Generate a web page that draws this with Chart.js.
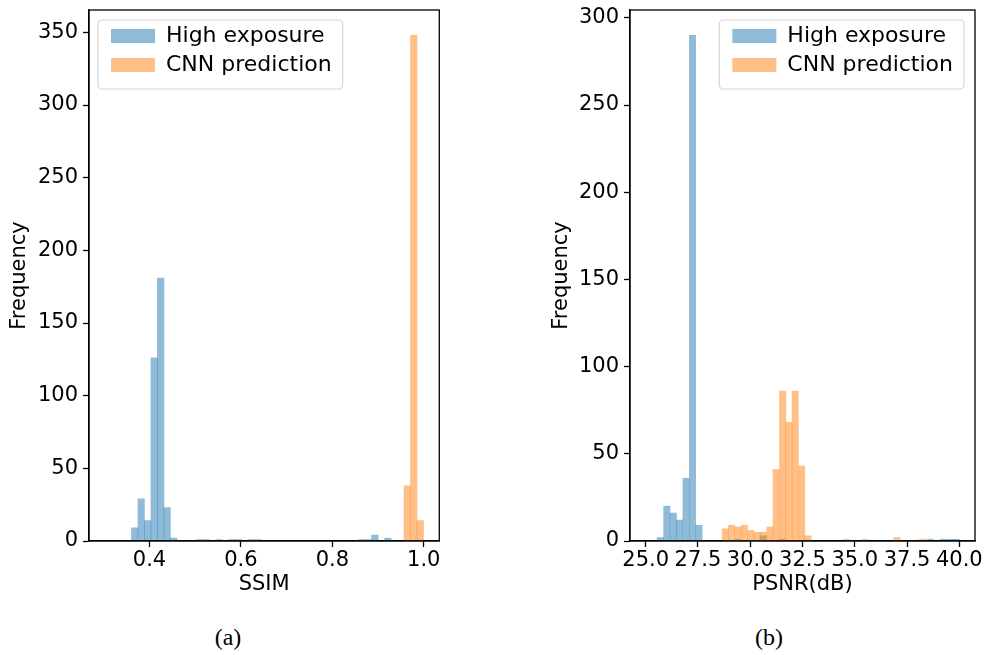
<!DOCTYPE html>
<html><head><meta charset="utf-8">
<script src="https://cdn.jsdelivr.net/npm/chart.js@4.4.0/dist/chart.umd.min.js"></script>
<style>
html,body{margin:0;padding:0;background:#fff;}
#wrap{position:relative;width:987px;height:655px;overflow:hidden;background:#fff;}
canvas{position:absolute;top:0;}
#cA{left:0;} #cB{left:542px;}
.cap{position:absolute;top:637px;transform:translate(-50%,-50%);font-family:'Liberation Serif','Times New Roman',serif;font-size:24px;color:#000;line-height:1;}
</style></head><body>
<div id="wrap">
<canvas id="cA" width="460" height="600"></canvas>
<canvas id="cB" width="445" height="600"></canvas>
<div class="cap" style="left:228px">(a)</div>
<div class="cap" style="left:769px">(b)</div>
</div>
<script>
// ---- data (bin centres and counts) ----
const seriesNames = ['High exposure', 'CNN prediction'];

// (a) SSIM
const ssimHighBins   = [0.3676, 0.3818, 0.3960, 0.4102, 0.4244, 0.4386, 0.4528, 0.5096, 0.5238, 0.5522, 0.5806, 0.5948, 0.6232, 0.6374, 0.8646, 0.8788, 0.8930, 0.9214];
const ssimHighCounts = [9, 29, 14, 126, 181, 23, 2, 1, 1, 1, 1, 1, 1, 1, 1, 1, 4, 2];
const ssimCnnBins    = [0.9640, 0.9782, 0.9924];
const ssimCnnCounts  = [38, 348, 14];
const ssimTicks      = [0.4, 0.6, 0.8, 1.0];
const ssimFreqTicks  = [0, 50, 100, 150, 200, 250, 300, 350];

// (b) PSNR
const psnrHighBins   = [25.70, 26.01, 26.32, 26.62, 26.93, 27.24, 27.55, 29.39, 30.62, 31.54, 38.62, 39.23, 39.54, 39.85];
const psnrHighCounts = [2, 20, 16, 12, 36, 290, 9, 1, 3, 1, 1, 1, 1, 1];
const psnrCnnBins    = [28.81, 29.11, 29.42, 29.72, 30.03, 30.33, 30.63, 30.94, 31.24, 31.55, 31.85, 32.15, 32.46, 32.76, 34.59, 35.50, 37.02, 38.23];
const psnrCnnCounts  = [7, 9, 8, 9, 6, 5, 5, 8, 41, 86, 68, 86, 43, 3, 1, 1, 2, 1];
const psnrTicks      = [25.0, 27.5, 30.0, 32.5, 35.0, 37.5, 40.0];
const psnrFreqTicks  = [0, 50, 100, 150, 200, 250, 300];

// ---- styling ----
const BLUE = 'rgba(31,119,180,0.5)';
const ORANGE = 'rgba(255,127,14,0.5)';
Chart.defaults.font.family = "'DejaVu Sans', sans-serif";
Chart.defaults.font.size = 21;
Chart.defaults.color = '#000';

const toXY = (bins, counts) => bins.map((b, i) => ({ x: b, y: counts[i] }));

const framePlugin = {
  id: 'axesFrame',
  afterDatasetsDraw(chart) {
    const { ctx, chartArea: a } = chart;
    ctx.save();
    ctx.strokeStyle = '#000';
    ctx.lineWidth = 1.3;
    ctx.strokeRect(a.left, a.top, a.right - a.left, a.bottom - a.top);
    ctx.restore();
  }
};

const legendPlugin = {
  id: 'mplLegend',
  afterUpdate(chart, args, o) {
    const lg = chart.legend;
    if (!lg || !lg.legendHitBoxes || !lg.legendHitBoxes.length) return;
    const a = chart.chartArea, hb = lg.legendHitBoxes;
    const left = Math.min(...hb.map(h => h.left));
    const right = Math.max(...hb.map(h => h.left + h.width));
    const target = o.anchor === 'left' ? a.left + o.dx : a.right - o.dx - (right - left);
    const dx = target - left;
    const dy = (a.top + o.dy) - (hb[0].top + hb[0].height / 2);
    lg.left += dx; lg.right += dx; lg.top += dy; lg.bottom += dy;
    hb.forEach(h => { h.left += dx; h.top += dy; });
  },
  beforeDraw(chart) {
    const lg = chart.legend;
    if (!lg || !lg.legendHitBoxes || !lg.legendHitBoxes.length) return;
    const hb = lg.legendHitBoxes;
    const l = Math.min(...hb.map(h => h.left)) - 13;
    const r = Math.max(...hb.map(h => h.left + h.width)) + 11;
    const t = hb[0].top + hb[0].height / 2 - 16;
    const b = hb[hb.length - 1].top + hb[hb.length - 1].height / 2 + 24;
    const ctx = chart.ctx, rad = 4;
    ctx.save();
    ctx.beginPath();
    ctx.moveTo(l + rad, t);
    ctx.arcTo(r, t, r, b, rad);
    ctx.arcTo(r, b, l, b, rad);
    ctx.arcTo(l, b, l, t, rad);
    ctx.arcTo(l, t, r, t, rad);
    ctx.closePath();
    ctx.fillStyle = 'rgba(255,255,255,0.8)';
    ctx.fill();
    ctx.strokeStyle = '#d6d6d6';
    ctx.lineWidth = 1.2;
    ctx.stroke();
    ctx.restore();
  }
};

function histChart(id, o) {
  return new Chart(document.getElementById(id), {
    type: 'bar',
    data: {
      datasets: [
        { label: seriesNames[0], data: toXY(o.highBins, o.highCounts), backgroundColor: BLUE, borderWidth: 0, xAxisID: 'x', order: 1 },
        { label: seriesNames[1], data: toXY(o.cnnBins, o.cnnCounts), backgroundColor: ORANGE, borderWidth: 0, xAxisID: 'x2', order: 0 }
      ]
    },
    options: {
      responsive: false,
      animation: false,
      devicePixelRatio: 1,
      layout: { autoPadding: false, padding: { left: 0, top: 10, right: o.padRight, bottom: 0 } },
      datasets: { bar: { barPercentage: 1, categoryPercentage: 1, grouped: false } },
      scales: {
        x: {
          type: 'linear', position: 'bottom', min: o.xMin, max: o.xMax, offset: false,
          grid: { display: true, drawOnChartArea: false, drawTicks: true, tickLength: 6, tickWidth: 1.3, tickColor: '#000', offset: false },
          border: { display: true, color: '#000', width: 1.3 },
          ticks: { autoSkip: false, maxRotation: 0, minRotation: 0, padding: 1, color: '#000', callback: v => Number(v).toFixed(1) },
          title: { display: true, text: o.xTitle, color: '#000', padding: { top: 0, bottom: 3 } },
          afterBuildTicks: s => { s.ticks = o.xTicks.map(v => ({ value: v })); },
          afterFit: s => { s.height = 59; }
        },
        x2: { type: 'linear', display: false, min: o.xMin, max: o.xMax, offset: false },
        y: {
          type: 'linear', position: 'left', min: 0, max: o.yMax,
          grid: { display: true, drawOnChartArea: false, drawTicks: true, tickLength: 6, tickWidth: 1.3, tickColor: '#000' },
          border: { display: true, color: '#000', width: 1.3 },
          ticks: { autoSkip: false, padding: 5, color: '#000', font: { size: 21, lineHeight: 0.4 }, callback: v => String(v) },
          title: { display: true, text: 'Frequency', color: '#000', padding: { top: 7, bottom: 0 } },
          afterBuildTicks: s => { s.ticks = o.yTicks.map(v => ({ value: v })); },
          afterFit: s => { s.width = o.yWidth; }
        }
      },
      plugins: {
        tooltip: { enabled: false },
        legend: {
          position: 'chartArea', align: 'start',
          labels: { boxWidth: 44, boxHeight: 14, padding: 7, color: '#000', font: { size: 22 },
                    sort: (a, b) => a.datasetIndex - b.datasetIndex }
        },
        mplLegend: { anchor: o.legendAnchor, dx: 22, dy: 26 }
      }
    },
    plugins: [legendPlugin, framePlugin]
  });
}

histChart('cA', {
  highBins: ssimHighBins, highCounts: ssimHighCounts, cnnBins: ssimCnnBins, cnnCounts: ssimCnnCounts,
  xTicks: ssimTicks, yTicks: ssimFreqTicks, xTitle: 'SSIM',
  xMin: 0.2676, xMax: 1.034, yMax: 365.4, yWidth: 89, padRight: 20.7, legendAnchor: 'left'
});
histChart('cB', {
  highBins: psnrHighBins, highCounts: psnrHighCounts, cnnBins: psnrCnnBins, cnnCounts: psnrCnnCounts,
  xTicks: psnrTicks, yTicks: psnrFreqTicks, xTitle: 'PSNR(dB)',
  xMin: 24.25, xMax: 40.75, yMax: 304.5, yWidth: 88, padRight: 12, legendAnchor: 'right'
});
</script>
</body></html>
